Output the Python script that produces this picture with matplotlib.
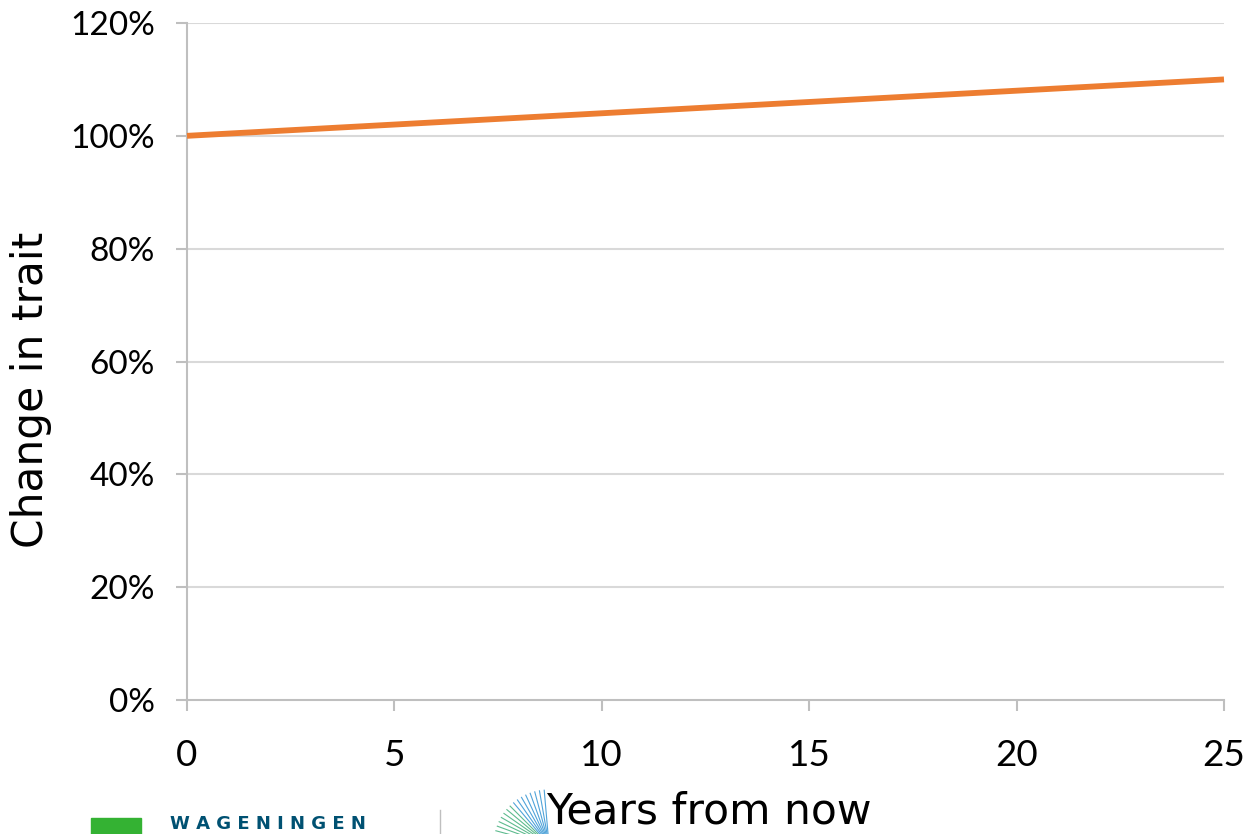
import matplotlib
matplotlib.use("Agg")
import matplotlib.pyplot as plt
from matplotlib.patches import Rectangle
import numpy as np

years = [0, 5, 10, 15, 20, 25]
trait_pct = [100, 102, 104, 106, 108, 110]
x_ticks = [0, 5, 10, 15, 20, 25]
y_ticks = [0, 20, 40, 60, 80, 100, 120]
y_tick_labels = ["0%", "20%", "40%", "60%", "80%", "100%", "120%"]

W, H = 1247, 834
fig = plt.figure(figsize=(W / 100, H / 100), dpi=100)
ax = fig.add_axes([187 / W, 1 - 700 / H, (1224 - 187) / W, (700 - 23) / H])

grid_c = "#D9D9D9"
axis_c = "#BFBFBF"
for yv in y_ticks[1:]:
    ax.axhline(yv, color=grid_c, lw=1.5, zorder=0)

ax.plot(years, trait_pct, color="#ED7D31", lw=4.2, solid_capstyle="butt", zorder=3,
        clip_on=False)

ax.set_xlim(0, 25)
ax.set_ylim(0, 120)
ax.set_xticks(x_ticks)
ax.set_xticklabels([str(v) for v in x_ticks])
ax.set_yticks(y_ticks)
ax.set_yticklabels(y_tick_labels)

for s in ["top", "right"]:
    ax.spines[s].set_visible(False)
for s in ["left", "bottom"]:
    ax.spines[s].set_color(axis_c)
    ax.spines[s].set_linewidth(1.5)

ax.tick_params(axis="both", direction="out", length=8, width=1.5, color=axis_c,
               labelcolor="black")
ax.tick_params(axis="x", pad=20)
ax.tick_params(axis="y", pad=15)
for lab in ax.get_xticklabels() + ax.get_yticklabels():
    lab.set_family(["Lato", "DejaVu Sans"])
for lab in ax.get_xticklabels():
    lab.set_fontsize(26.5)
for lab in ax.get_yticklabels():
    lab.set_fontsize(24)

fig.text(31 / W, 1 - 390 / H, "Change in trait", rotation=90, ha="center", va="center",
         fontsize=30.5, family="DejaVu Sans", color="black")
fig.text(709 / W, 1 / H, "Years from now", ha="center", va="bottom",
         fontsize=30.5, family="DejaVu Sans", color="black")

# logo fragments at bottom
fig.patches.append(Rectangle((91 / W, 0), 50 / W, (834 - 818) / H, transform=fig.transFigure,
                             color="#34B233", zorder=1))
fig.text(170 / W, 1 / H, "W A G E N I N G E N", ha="left", va="bottom",
         fontsize=13, family="DejaVu Sans", color="#005172", weight="bold")
fig.add_artist(plt.Line2D([440 / W, 440 / W], [0, 1 - 810 / H], transform=fig.transFigure,
                          color="#BFBFBF", lw=1))
cx, cy = 549, 845
for ang in np.linspace(95, 170, 16):
    r = 55
    x2 = cx + r * np.cos(np.radians(ang))
    y2 = cy - r * np.sin(np.radians(ang))
    col = "#4FA3D9" if ang < 135 else "#5DBB8E"
    fig.add_artist(plt.Line2D([cx / W, x2 / W], [1 - cy / H, 1 - y2 / H],
                              transform=fig.transFigure, color=col, lw=0.8))

fig.savefig("out.png", dpi=100)
